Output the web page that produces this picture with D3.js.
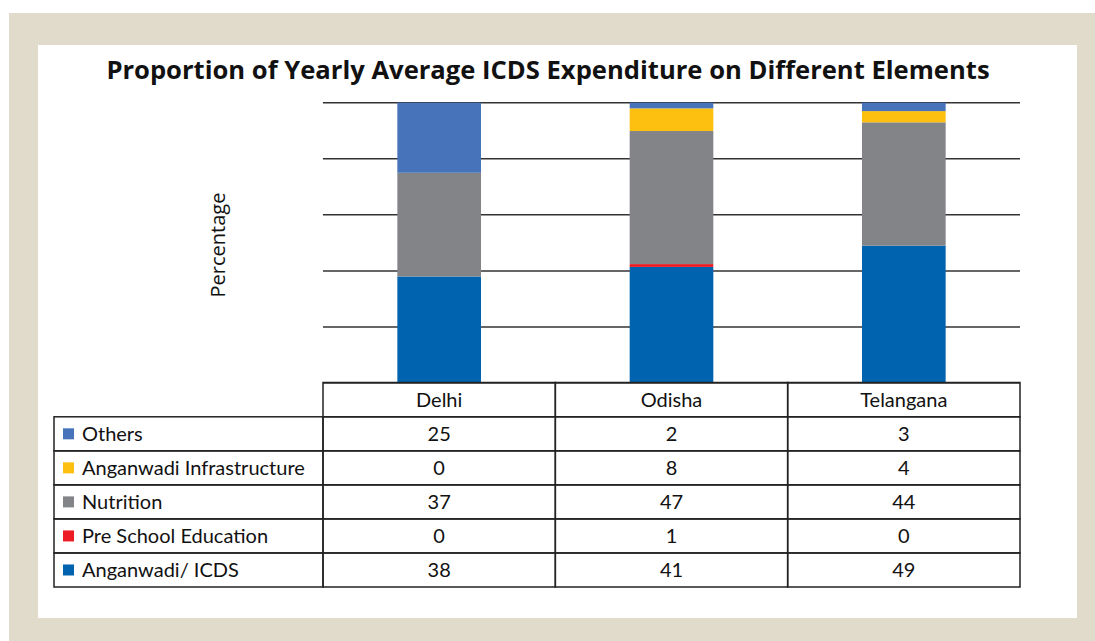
<!DOCTYPE html>
<html>
<head>
<meta charset="utf-8">
<script src="https://cdn.jsdelivr.net/npm/d3@7"></script>
<style>
  html, body { margin: 0; padding: 0; background: #fff; }
  svg { display: block; }
</style>
</head>
<body>
<svg id="chart" width="1095" height="641"></svg>
<script>
// dane z obrázka
const states = ["Delhi", "Odisha", "Telangana"];
const seriesNames = ["Others", "Anganwadi Infrastructure", "Nutrition", "Pre School Education", "Anganwadi/ ICDS"];
const others = [25, 2, 3];
const infrastructure = [0, 8, 4];
const nutrition = [37, 47, 44];
const preSchool = [0, 1, 0];
const anganwadi = [38, 41, 49];
const seriesColors = ["#4673b9", "#fdc010", "#838488", "#ed1c24", "#0063af"];
const gridTicks = [0, 0.2, 0.4, 0.6, 0.8, 1];

const seriesValues = [others, infrastructure, nutrition, preSchool, anganwadi];

const rows = states.map((s, i) => {
  const r = { state: s };
  seriesNames.forEach((n, k) => { r[n] = seriesValues[k][i]; });
  return r;
});

const svg = d3.select("#chart");

// pozadie
svg.append("rect").attr("x", 9).attr("y", 13).attr("width", 1086).attr("height", 628).attr("fill", "#e0dbcb");
svg.append("rect").attr("x", 38).attr("y", 45).attr("width", 1039).attr("height", 573).attr("fill", "#fff");

svg.append("text")
  .attr("x", 548).attr("y", 79)
  .attr("text-anchor", "middle")
  .style("font-family", "'Open Sans', sans-serif")
  .style("font-weight", "bold")
  .style("font-size", "25.6px")
  .attr("fill", "#111")
  .text("Proportion of Yearly Average ICDS Expenditure on Different Elements");

const plotLeft = 323, plotRight = 1020, plotTop = 102.7, plotBottom = 383;

const x = d3.scaleBand().domain(states).range([plotLeft, plotRight]);
const xBar = d3.scaleBand().domain(states).range([plotLeft, plotRight]).paddingInner(0.64).paddingOuter(0.32);
const y = d3.scaleLinear().domain([0, 1]).range([plotBottom, plotTop]);

// mriežka
svg.append("g").selectAll("line")
  .data(gridTicks)
  .join("line")
  .attr("x1", plotLeft).attr("x2", plotRight)
  .attr("y1", d => y(d)).attr("y2", d => y(d))
  .attr("stroke", "#333")
  .attr("stroke-width", 1.5);

// stĺpce (100 % stacked)
const stackKeys = seriesNames.slice().reverse();
const stacked = d3.stack().keys(stackKeys).offset(d3.stackOffsetExpand)(rows);
const color = d3.scaleOrdinal().domain(seriesNames).range(seriesColors);

svg.append("g").selectAll("g")
  .data(stacked)
  .join("g")
  .attr("fill", d => color(d.key))
  .selectAll("rect")
  .data(d => d)
  .join("rect")
  .attr("x", d => xBar(d.data.state))
  .attr("width", xBar.bandwidth())
  .attr("y", d => y(d[1]))
  .attr("height", d => y(d[0]) - y(d[1]));

svg.append("text")
  .attr("transform", `translate(225,245) rotate(-90)`)
  .attr("text-anchor", "middle")
  .style("font-family", "'Open Sans', sans-serif")
  .style("font-size", "20px")
  .attr("fill", "#111")
  .text("Percentage");

// tabuľka
const labelLeft = 54;
const headTop = 382.5;
const yRow = d3.scaleBand().domain(seriesNames).range([416.8, 587]);
const tbl = svg.append("g");
const font = "Lato, sans-serif";
const lineStyle = sel => sel.attr("stroke", "#222").attr("stroke-width", 1.5).attr("fill", "none");

// hlavička
tbl.append("g").selectAll("rect")
  .data(states)
  .join("rect")
  .attr("x", d => x(d)).attr("y", headTop)
  .attr("width", x.bandwidth()).attr("height", yRow.range()[0] - headTop)
  .call(lineStyle);

tbl.append("g").selectAll("text")
  .data(states)
  .join("text")
  .attr("x", d => x(d) + x.bandwidth() / 2)
  .attr("y", (headTop + yRow.range()[0]) / 2)
  .attr("dy", "0.35em")
  .attr("text-anchor", "middle")
  .style("font-family", font).style("font-size", "20px")
  .attr("fill", "#111")
  .text(d => d);

// riadky
const rowG = tbl.append("g").selectAll("g")
  .data(seriesNames)
  .join("g")
  .attr("transform", d => `translate(0,${yRow(d)})`);

rowG.append("rect")
  .attr("x", labelLeft).attr("width", plotLeft - labelLeft)
  .attr("height", yRow.bandwidth())
  .call(lineStyle);

rowG.append("rect")
  .attr("x", 63).attr("y", yRow.bandwidth() / 2 - 5.5)
  .attr("width", 11).attr("height", 11)
  .attr("fill", d => color(d));

rowG.append("text")
  .attr("x", 82).attr("y", yRow.bandwidth() / 2)
  .attr("dy", "0.35em")
  .style("font-family", font).style("font-size", "20px")
  .attr("fill", "#111")
  .text(d => d);

rowG.each(function(name, k) {
  const g = d3.select(this);
  g.selectAll("rect.cell")
    .data(states)
    .join("rect")
    .attr("class", "cell")
    .attr("x", s => x(s)).attr("width", x.bandwidth())
    .attr("height", yRow.bandwidth())
    .call(lineStyle);
  g.selectAll("text.val")
    .data(seriesValues[k])
    .join("text")
    .attr("class", "val")
    .attr("x", (v, i) => x(states[i]) + x.bandwidth() / 2)
    .attr("y", yRow.bandwidth() / 2)
    .attr("dy", "0.35em")
    .attr("text-anchor", "middle")
    .style("font-family", font).style("font-size", "20px")
    .attr("fill", "#111")
    .text(v => v);
});
</script>
</body>
</html>
